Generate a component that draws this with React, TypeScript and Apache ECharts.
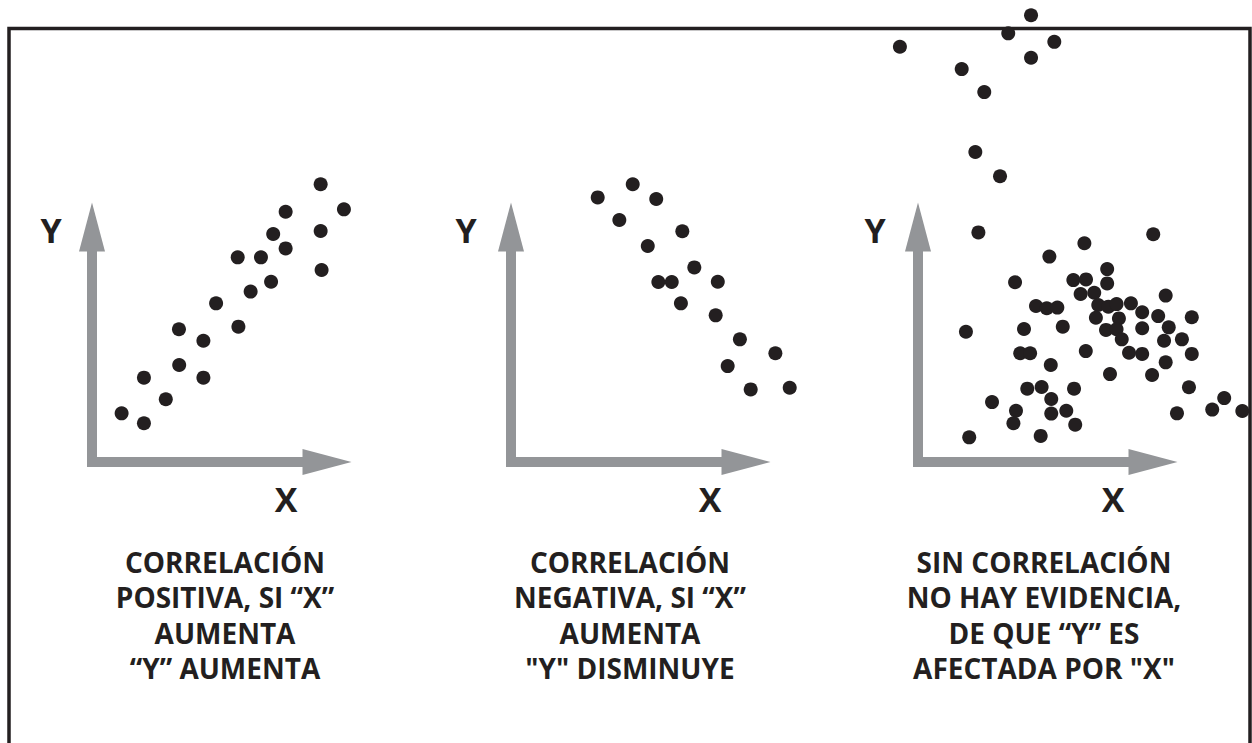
import React, { useEffect, useRef } from "react";
import * as echarts from "echarts";

// Values: each panel is a 0–100 by 0–100 plane whose origin is the corner of the grey axes.
const positivePoints: number[][] = [
  [12.6, 20.7], [22.1, 16.5], [22.1, 35.9], [31.4, 26.7], [37.0, 56.5], [37.1, 41.3],
  [47.4, 51.6], [47.4, 35.9], [52.8, 67.5], [62.3, 57.6], [62.0, 87.1], [67.5, 72.5],
  [71.9, 87.1], [76.2, 76.7], [77.1, 97.0], [82.4, 106.5], [82.4, 90.9], [97.3, 118.2],
  [97.3, 98.3], [97.7, 81.7], [107.2, 107.5],
];

const negativePoints: number[][] = [
  [36.9, 112.6], [51.8, 118.2], [61.8, 111.9], [46.1, 103.0], [72.9, 98.2], [58.2, 91.9],
  [78.0, 82.8], [62.7, 76.6], [68.4, 76.6], [88.0, 76.7], [72.3, 67.5], [87.1, 62.4],
  [97.4, 52.2], [112.5, 46.3], [92.2, 40.8], [102.0, 30.9], [118.6, 31.6],
];

const noCorrelationPoints: number[][] = [
  [48.1, 190.1], [38.4, 182.4], [58.0, 178.8], [-7.7, 176.7], [48.1, 172.0], [18.6, 167.2],
  [28.2, 157.4], [24.4, 131.9], [34.9, 121.6], [25.7, 97.7], [100.1, 96.9], [70.8, 93.1],
  [55.9, 87.4], [80.5, 82.1], [41.3, 76.5], [66.1, 77.4], [71.5, 77.7], [80.5, 76.0],
  [69.2, 71.5], [75.0, 72.0], [105.4, 70.8], [50.2, 66.4], [54.8, 65.4], [59.3, 65.7],
  [76.7, 66.8], [81.0, 66.1], [84.5, 67.2], [90.6, 67.5], [95.4, 63.7], [102.2, 62.1],
  [116.5, 61.6], [75.7, 61.4], [85.5, 61.1], [45.1, 56.6], [61.6, 57.6], [20.4, 55.4],
  [80.0, 56.2], [84.5, 56.5], [95.4, 56.9], [106.7, 57.3], [86.7, 52.2], [104.7, 51.6],
  [112.3, 52.2], [43.5, 46.3], [47.7, 46.3], [71.4, 47.2], [89.8, 46.5], [95.4, 46.0],
  [116.5, 46.0], [56.5, 41.3], [105.4, 42.4], [81.7, 37.4], [99.6, 37.0], [46.5, 31.2],
  [52.6, 31.9], [66.4, 31.2], [115.3, 31.8], [56.7, 26.8], [31.5, 25.5], [130.3, 27.2],
  [41.7, 21.8], [56.7, 20.6], [63.1, 21.8], [125.2, 22.3], [138.0, 21.7], [110.2, 20.7],
  [40.6, 16.5], [66.9, 15.9], [21.8, 10.5], [52.2, 11.1],
];

const axisLetters = { x: "X", y: "Y" };

const captions: string[][] = [
  ["CORRELACIÓN", "POSITIVA, SI “X”", "AUMENTA", "“Y” AUMENTA"],
  ["CORRELACIÓN", "NEGATIVA, SI “X”", "AUMENTA", "\"Y\" DISMINUYE"],
  ["SIN CORRELACIÓN", "NO HAY EVIDENCIA,", "DE QUE “Y” ES", "AFECTADA POR \"X\""],
];

const panelSeries = [positivePoints, negativePoints, noCorrelationPoints];

// Layout (pixels)
const panelLeft = [92, 511, 918];
const gridTop = 227;
const gridSize = 235;
const yLabelPos = [[51, 230], [466, 230], [875, 230]];
const xLabelPos = [[286, 499], [710, 499], [1113, 499]];
const captionCenter = [225, 630, 1044];
const GREY = "#939598";
const INK = "#231f20";
const FONT = "'Open Sans', 'Noto Sans', sans-serif";

export default function App() {
  const ref = useRef<HTMLDivElement>(null);

  useEffect(() => {
    document.body.style.margin = "0";
    document.body.style.overflow = "hidden";
    if (!ref.current) return;
    const chart = echarts.init(ref.current, null, { renderer: "svg" });

    const grids = panelLeft.map((left) => ({
      left,
      top: gridTop,
      width: gridSize,
      height: gridSize,
    }));

    const axisCommon = {
      min: 0,
      max: 100,
      axisTick: { show: false },
      axisLabel: { show: false },
      splitLine: { show: false },
      axisLine: {
        show: true,
        onZero: false,
        symbol: ["none", "triangle"],
        symbolSize: [26, 49],
        lineStyle: { color: GREY, width: 10, cap: "square" },
      },
    };

    const xAxes = panelLeft.map((_, i) => ({ ...axisCommon, type: "value", gridIndex: i }));
    const yAxes = panelLeft.map((_, i) => ({ ...axisCommon, type: "value", gridIndex: i }));

    const series = panelSeries.map((pts, i) => ({
      type: "scatter",
      xAxisIndex: i,
      yAxisIndex: i,
      data: pts,
      symbol: "circle",
      symbolSize: 14,
      clip: false,
      silent: true,
      z: 5,
      itemStyle: { color: INK, opacity: 1 },
    }));

    const graphics: any[] = [
      {
        type: "rect",
        z: 1,
        silent: true,
        shape: { x: 9, y: 28.5, width: 1241, height: 760 },
        style: { fill: "none", stroke: INK, lineWidth: 3.5 },
      },
    ];

    yLabelPos.forEach(([x, y]) => {
      graphics.push({
        type: "text",
        x,
        y,
        style: {
          text: axisLetters.y,
          fill: INK,
          font: `bold 34px ${FONT}`,
          textAlign: "center",
          textVerticalAlign: "middle",
        },
      });
    });
    xLabelPos.forEach(([x, y]) => {
      graphics.push({
        type: "text",
        x,
        y,
        style: {
          text: axisLetters.x,
          fill: INK,
          font: `bold 34px ${FONT}`,
          textAlign: "center",
          textVerticalAlign: "middle",
        },
      });
    });
    captions.forEach((lines, i) => {
      graphics.push({
        type: "text",
        x: captionCenter[i],
        y: 615,
        style: {
          text: lines.join("\n"),
          fill: INK,
          font: `bold 28px ${FONT}`,
          lineHeight: 35.5,
          textAlign: "center",
          textVerticalAlign: "middle",
        },
      });
    });

    chart.setOption({
      animation: false,
      backgroundColor: "#ffffff",
      grid: grids,
      xAxis: xAxes,
      yAxis: yAxes,
      series,
      graphic: graphics,
    });

    return () => chart.dispose();
  }, []);

  return <div ref={ref} style={{ width: 1252, height: 743 }} />;
}
